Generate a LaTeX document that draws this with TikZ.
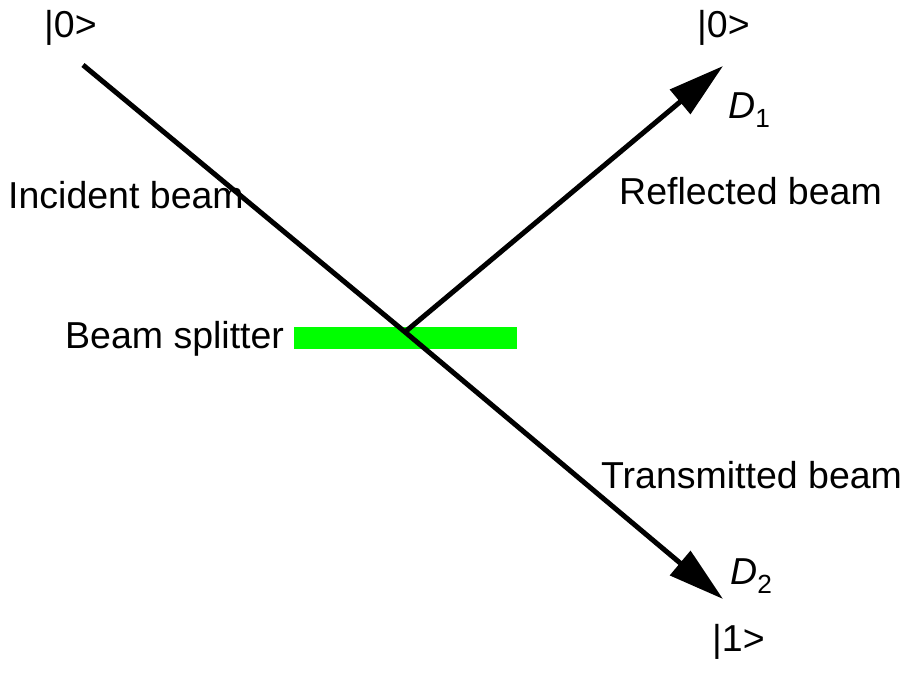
\documentclass[tikz,border=0pt]{standalone}
\usepackage{fontspec}
\setmainfont{Liberation Sans}
\usetikzlibrary{arrows.meta}
\begin{document}
\begin{tikzpicture}[
 x=1pt,y=-1pt,
 every node/.style={font=\fontsize{37.5}{45}\selectfont,inner sep=0pt},
 label/.style={anchor=base west},
 beam/.style={line width=5pt,black},
 beamtip/.style={-{Triangle[length=56pt,width=31pt]}},
 splitbar/.style={fill={rgb,255:red,0;green,255;blue,0},minimum width=223pt,minimum height=22pt}
]
 \useasboundingbox (0,0) rectangle (905,675);

 \node[splitbar] (splitter) at (405.5,338) {};

 \coordinate (source) at (83,65);
 \coordinate (split) at (405,332);
 \coordinate (det1) at (723,66);
 \coordinate (det2) at (723,599);

 % incident beam passes straight through, reflected part leaves upward
 \draw[beam,beamtip] (source) -- (split) -- (det2);
 \draw[beam,beamtip] (split) -- (det1);

 \node[label] (inket) at (44,37) {|0>};
 \node[label] (outket1) at (697,37) {|0>};
 \node[label] (outket2) at (712,651) {|1>};
 \node[label] (dlab1) at (728,118) {\textit{D}\textsubscript{1}};
 \node[label] (dlab2) at (730,584) {\textit{D}\textsubscript{2}};
 \node[label] (inlab) at (8,208) {Incident beam};
 \node[label] (reflab) at (619,204) {Reflected beam};
 \node[label] (splitlab) at (65,348) {Beam splitter};
 \node[label] (translab) at (601,488) {Transmitted beam};
\end{tikzpicture}
\end{document}
